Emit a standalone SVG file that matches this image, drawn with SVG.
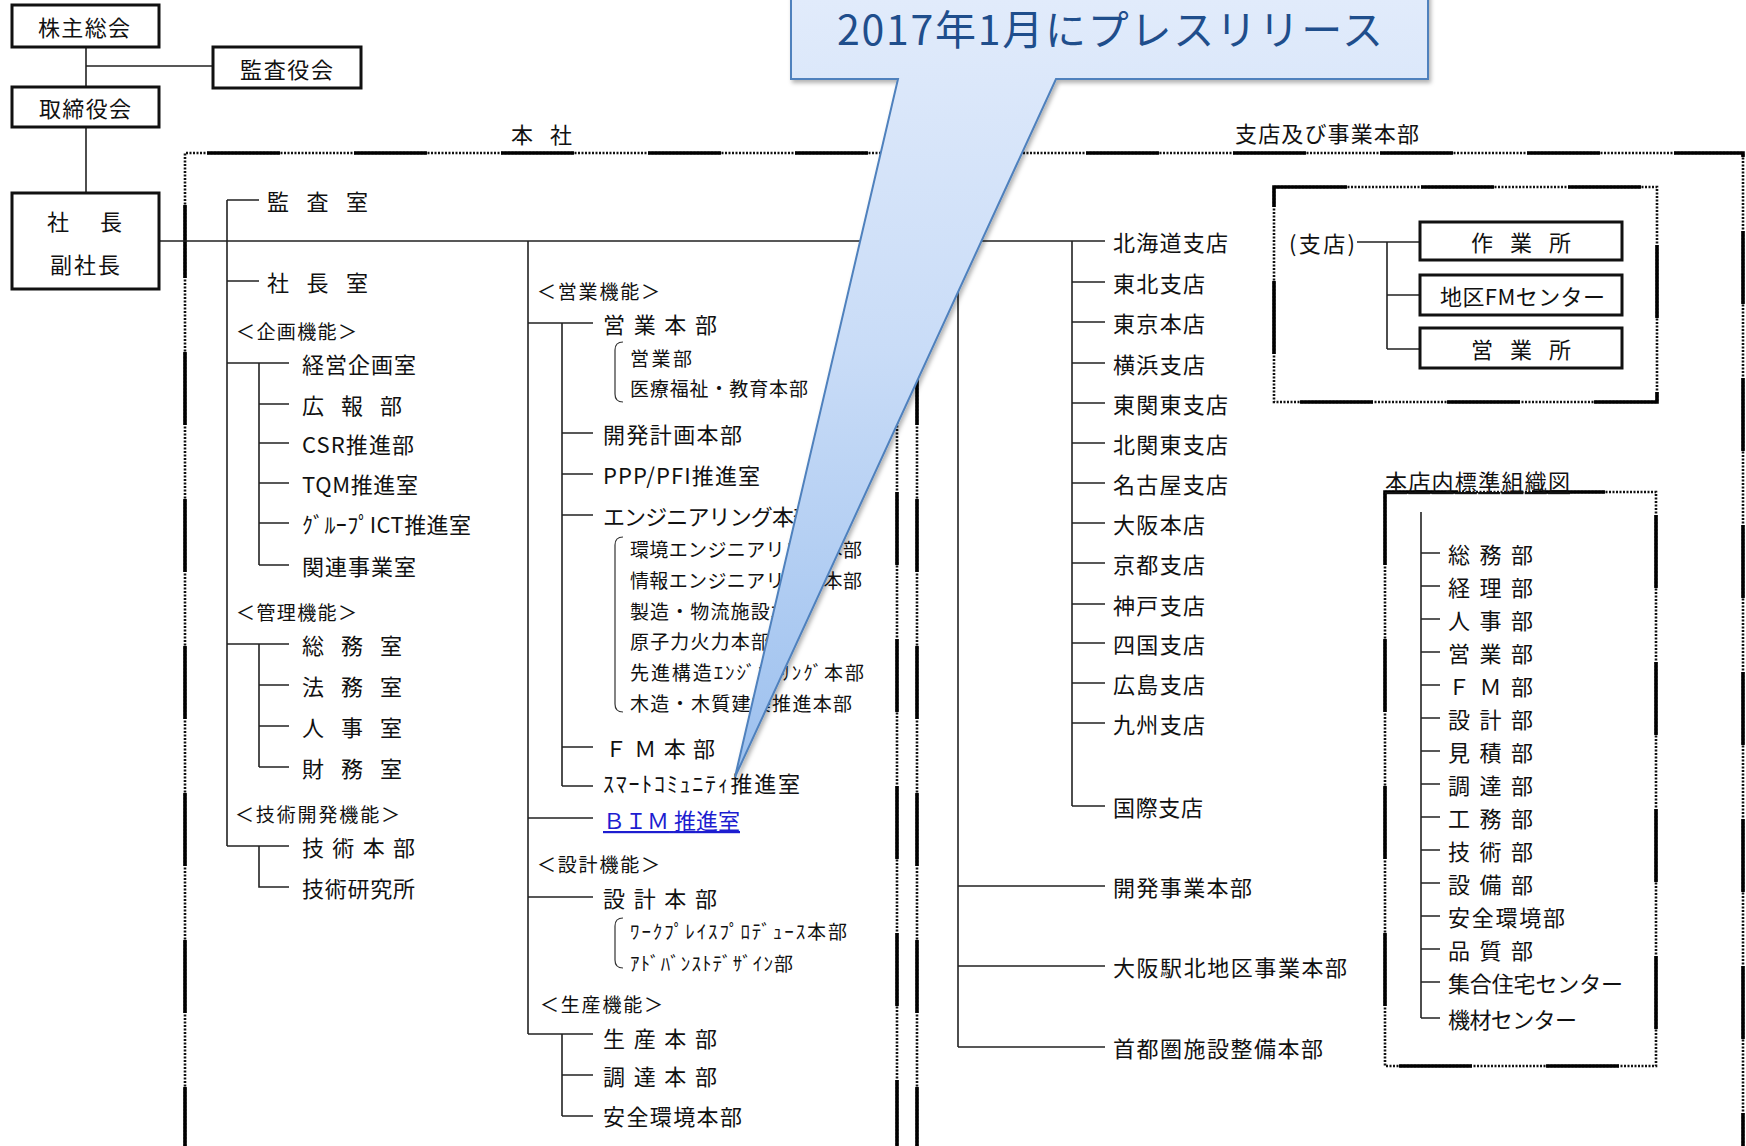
<svg xmlns="http://www.w3.org/2000/svg" width="1746" height="1146" viewBox="0 0 1746 1146">
<defs>
<style>
.t{font-family:"Noto Sans CJK JP","Noto Sans",sans-serif;font-size:22px;fill:#111;dominant-baseline:central}
.s{font-size:19px}
.h{font-size:19px}
.c{stroke:#222;stroke-width:1.6;fill:none}
.bx{fill:#fff;stroke:#111;stroke-width:3}
.dot{fill:none;stroke:#111;stroke-width:2.6;stroke-dasharray:2 1.5}
.sol{fill:none;stroke:#000;stroke-width:3.6;stroke-dasharray:73 74}
.br{fill:none;stroke:#333;stroke-width:1.2}
.ct{font-family:"Noto Sans CJK JP","Noto Sans",sans-serif;font-size:41px;fill:#1f4e8c}
</style>
<linearGradient id="cg" gradientUnits="userSpaceOnUse" x1="0" y1="0" x2="0" y2="777">
<stop offset="0" stop-color="#e1ebfb"/>
<stop offset="0.45" stop-color="#c9dcf7"/>
<stop offset="1" stop-color="#9cc0ee"/>
</linearGradient>
<filter id="sh" x="-10%" y="-10%" width="130%" height="130%">
<feDropShadow dx="2" dy="3" stdDeviation="2" flood-color="#000" flood-opacity="0.3"/>
</filter>
</defs>
<rect x="0" y="0" width="1746" height="1146" fill="#fff"/>

<!-- section frames -->
<g id="frame-honsha">
<path class="dot" d="M185,1160 V153 H897 V1160"/>
<path class="sol" d="M185,1160 V153 H897 V1160"/>
<text class="t" x="511" y="133" textLength="61">本 社</text>
</g>
<g id="frame-shiten">
<path class="dot" d="M917,1160 V153 H1743 V1160"/>
<path class="sol" d="M917,1160 V153 H1743 V1160"/>
<text class="t" x="1235" y="132" textLength="184">支店及び事業本部</text>
</g>
<g id="frame-shiten-inner">
<path class="dot" d="M1274,187 H1657 V402 H1274 Z"/>
<path class="sol" d="M1274,187 H1657 V402 H1274 Z"/>
</g>
<g id="frame-honten">
<path class="dot" d="M1385,492 H1656 V1066 H1385 Z"/>
<path class="sol" d="M1385,492 H1656 V1066 H1385 Z"/>
<text class="t" x="1385" y="480" textLength="185" text-decoration="underline">本店内標準組織図</text>
</g>

<!-- connectors -->
<g id="connectors">
<path class="c" d="M86,47 V87 M86,66 H213 M86,127 V193 M159,241 H1105"/>
<path class="c" d="M227,200 V846 M227,200 H259 M227,281 H259 M227,363 H289 M259,363 V565 M259,404 H289 M259,443 H289 M259,483 H289 M259,523 H289 M259,565 H289"/>
<path class="c" d="M227,644 H289 M259,644 V767 M259,685 H289 M259,726 H289 M259,767 H289 M227,846 H289 M259,846 V887 H289"/>
<path class="c" d="M528,241 V1034 M528,323 H593 M562,323 V786 M562,433 H593 M562,474 H593 M562,515 H593 M562,747 H593 M562,786 H593 M528,818 H593 M528,897 H593 M528,1034 H593 M562,1034 V1116 M562,1075 H593 M562,1116 H593"/>
<path class="br" d="M623,342 Q615,342 615,350 V394 Q615,402 623,402 M623,537 Q615,537 615,545 V704 Q615,712 623,712 M623,918 Q615,918 615,926 V960 Q615,968 623,968"/>
<path class="c" d="M1072,241 V806 M1072,282 H1105 M1072,322 H1105 M1072,363 H1105 M1072,403 H1105 M1072,443 H1105 M1072,483 H1105 M1072,523 H1105 M1072,563 H1105 M1072,604 H1105 M1072,643 H1105 M1072,683 H1105 M1072,723 H1105 M1072,806 H1105"/>
<path class="c" d="M958,241 V1047 M958,886 H1105 M958,966 H1105 M958,1047 H1105"/>
<path class="c" d="M1357,242 H1420 M1387,242 V349 M1387,295 H1420 M1387,349 H1420"/>
<path class="c" d="M1421,512 V1018 M1421,553 H1440 M1421,586 H1440 M1421,619 H1440 M1421,652 H1440 M1421,685 H1440 M1421,718 H1440 M1421,751 H1440 M1421,784 H1440 M1421,817 H1440 M1421,850 H1440 M1421,883 H1440 M1421,916 H1440 M1421,949 H1440 M1421,982 H1440 M1421,1018 H1440"/>
</g>

<!-- top nodes -->
<g id="n-kabunushi"><rect class="bx" x="12" y="5" width="147" height="42"/><text class="t" x="38" y="26" textLength="92">株主総会</text></g>
<g id="n-kansayakukai"><rect class="bx" x="213" y="47" width="148" height="41"/><text class="t" x="240" y="68" textLength="93">監査役会</text></g>
<g id="n-torishimariyaku"><rect class="bx" x="12" y="87" width="147" height="40"/><text class="t" x="39" y="107" textLength="92">取締役会</text></g>
<g id="n-shacho"><rect class="bx" x="12" y="193" width="147" height="96"/><text class="t" x="47" y="220" textLength="75">社　長</text><text class="t" x="50" y="263" textLength="70">副社長</text></g>

<!-- column 1 -->
<g id="n-kansashitsu"><text class="t" x="267" y="200" textLength="101">監 査 室</text></g>
<g id="n-shachoshitsu"><text class="t" x="267" y="281" textLength="101">社 長 室</text></g>
<g id="n-kikaku"><text class="t h" x="236" y="330" textLength="121">＜企画機能＞</text></g>
<g id="n-keiei"><text class="t" x="302" y="363" textLength="114">経営企画室</text></g>
<g id="n-koho"><text class="t" x="302" y="404" textLength="100">広 報 部</text></g>
<g id="n-csr"><text class="t" x="302" y="443" textLength="112">CSR推進部</text></g>
<g id="n-tqm"><text class="t" x="302" y="483" textLength="116">TQM推進室</text></g>
<g id="n-ict"><text class="t" x="302" y="523" textLength="169">ｸﾞﾙｰﾌﾟICT推進室</text></g>
<g id="n-kanren"><text class="t" x="302" y="565" textLength="114">関連事業室</text></g>
<g id="n-kanri"><text class="t h" x="236" y="611" textLength="121">＜管理機能＞</text></g>
<g id="n-somu"><text class="t" x="302" y="644" textLength="100">総 務 室</text></g>
<g id="n-homu"><text class="t" x="302" y="685" textLength="100">法 務 室</text></g>
<g id="n-jinji"><text class="t" x="302" y="726" textLength="100">人 事 室</text></g>
<g id="n-zaimu"><text class="t" x="302" y="767" textLength="100">財 務 室</text></g>
<g id="n-gijutsukaihatsu"><text class="t h" x="235" y="813" textLength="165">＜技術開発機能＞</text></g>
<g id="n-gijutsuhonbu"><text class="t" x="302" y="846" textLength="113">技 術 本 部</text></g>
<g id="n-gijutsuken"><text class="t" x="302" y="887" textLength="113">技術研究所</text></g>

<!-- column 2 -->
<g id="n-eigyokino"><text class="t h" x="537" y="290" textLength="123">＜営業機能＞</text></g>
<g id="n-eigyohonbu"><text class="t" x="603" y="323" textLength="114">営 業 本 部</text>
<text class="t s" x="630" y="357" textLength="62">営業部</text>
<text class="t s" x="630" y="387" textLength="178">医療福祉・教育本部</text></g>
<g id="n-kaihatsukeikaku"><text class="t" x="603" y="433" textLength="139">開発計画本部</text></g>
<g id="n-ppp"><text class="t" x="603" y="474" textLength="157">PPP/PFI推進室</text></g>
<g id="n-eng"><text class="t" x="603" y="515" textLength="212">エンジニアリング本部</text>
<text class="t s" x="630" y="548" textLength="232">環境エンジニアリング本部</text>
<text class="t s" x="630" y="579" textLength="232">情報エンジニアリング本部</text>
<text class="t s" x="630" y="610" textLength="180">製造・物流施設本部</text>
<text class="t s" x="630" y="640" textLength="140">原子力火力本部</text>
<text class="t s" x="630" y="671" textLength="234">先進構造ｴﾝｼﾞﾆｱﾘﾝｸﾞ本部</text>
<text class="t s" x="630" y="702" textLength="222">木造・木質建築推進本部</text></g>
<g id="n-fm"><text class="t" x="605" y="747" textLength="110">Ｆ Ｍ 本 部</text></g>
<g id="n-smart"><text class="t" x="603" y="782" textLength="197">ｽﾏｰﾄｺﾐｭﾆﾃｨ推進室</text></g>
<g id="n-bim"><text class="t" x="603" y="819" textLength="137" style="fill:#1d1dd0" text-decoration="underline">ＢＩＭ 推進室</text></g>
<g id="n-sekkeikino"><text class="t h" x="537" y="863" textLength="123">＜設計機能＞</text></g>
<g id="n-sekkeihonbu"><text class="t" x="603" y="897" textLength="114">設 計 本 部</text>
<text class="t s" x="630" y="930" textLength="217">ﾜｰｸﾌﾟﾚｲｽﾌﾟﾛﾃﾞｭｰｽ本部</text>
<text class="t s" x="630" y="962" textLength="163">ｱﾄﾞﾊﾞﾝｽﾄﾃﾞｻﾞｲﾝ部</text></g>
<g id="n-seisankino"><text class="t h" x="540" y="1003" textLength="123">＜生産機能＞</text></g>
<g id="n-seisanhonbu"><text class="t" x="603" y="1037" textLength="114">生 産 本 部</text></g>
<g id="n-chotatsu"><text class="t" x="603" y="1075" textLength="114">調 達 本 部</text></g>
<g id="n-anzen"><text class="t" x="603" y="1115" textLength="139">安全環境本部</text></g>

<!-- branches -->
<g id="n-hokkaido"><text class="t" x="1113" y="241" textLength="115">北海道支店</text></g>
<g id="n-tohoku"><text class="t" x="1113" y="282" textLength="92">東北支店</text></g>
<g id="n-tokyo"><text class="t" x="1113" y="322" textLength="92">東京本店</text></g>
<g id="n-yokohama"><text class="t" x="1113" y="363" textLength="92">横浜支店</text></g>
<g id="n-higashikanto"><text class="t" x="1113" y="403" textLength="115">東関東支店</text></g>
<g id="n-kitakanto"><text class="t" x="1113" y="443" textLength="115">北関東支店</text></g>
<g id="n-nagoya"><text class="t" x="1113" y="483" textLength="115">名古屋支店</text></g>
<g id="n-osaka"><text class="t" x="1113" y="523" textLength="92">大阪本店</text></g>
<g id="n-kyoto"><text class="t" x="1113" y="563" textLength="92">京都支店</text></g>
<g id="n-kobe"><text class="t" x="1113" y="604" textLength="92">神戸支店</text></g>
<g id="n-shikoku"><text class="t" x="1113" y="643" textLength="92">四国支店</text></g>
<g id="n-hiroshima"><text class="t" x="1113" y="683" textLength="92">広島支店</text></g>
<g id="n-kyushu"><text class="t" x="1113" y="723" textLength="92">九州支店</text></g>
<g id="n-kokusai"><text class="t" x="1113" y="806" textLength="90">国際支店</text></g>
<g id="n-kaihatsujigyo"><text class="t" x="1113" y="886" textLength="139">開発事業本部</text></g>
<g id="n-osakaeki"><text class="t" x="1113" y="966" textLength="234">大阪駅北地区事業本部</text></g>
<g id="n-shutoken"><text class="t" x="1113" y="1047" textLength="210">首都圏施設整備本部</text></g>

<!-- shiten inner -->
<g id="n-shiten"><text class="t" x="1289" y="242" textLength="66">(支店)</text></g>
<g id="n-sagyosho"><rect class="bx" x="1420" y="222" width="202" height="38"/><text class="t" x="1471" y="241" textLength="100">作 業 所</text></g>
<g id="n-chikufm"><rect class="bx" x="1420" y="275" width="202" height="40"/><text class="t" x="1440" y="295" textLength="165">地区FMセンター</text></g>
<g id="n-eigyosho"><rect class="bx" x="1420" y="328" width="202" height="40"/><text class="t" x="1471" y="348" textLength="100">営 業 所</text></g>

<!-- honten standard -->
<g id="n-h-somu"><text class="t" x="1448" y="553" textLength="85">総 務 部</text></g>
<g id="n-h-keiri"><text class="t" x="1448" y="586" textLength="85">経 理 部</text></g>
<g id="n-h-jinji"><text class="t" x="1448" y="619" textLength="85">人 事 部</text></g>
<g id="n-h-eigyo"><text class="t" x="1448" y="652" textLength="85">営 業 部</text></g>
<g id="n-h-fm"><text class="t" x="1448" y="685" textLength="85">Ｆ Ｍ 部</text></g>
<g id="n-h-sekkei"><text class="t" x="1448" y="718" textLength="85">設 計 部</text></g>
<g id="n-h-mitsumori"><text class="t" x="1448" y="751" textLength="85">見 積 部</text></g>
<g id="n-h-chotatsu"><text class="t" x="1448" y="784" textLength="85">調 達 部</text></g>
<g id="n-h-komu"><text class="t" x="1448" y="817" textLength="85">工 務 部</text></g>
<g id="n-h-gijutsu"><text class="t" x="1448" y="850" textLength="85">技 術 部</text></g>
<g id="n-h-setsubi"><text class="t" x="1448" y="883" textLength="85">設 備 部</text></g>
<g id="n-h-anzen"><text class="t" x="1448" y="916" textLength="117">安全環境部</text></g>
<g id="n-h-hinshitsu"><text class="t" x="1448" y="949" textLength="85">品 質 部</text></g>
<g id="n-h-shugo"><text class="t" x="1448" y="982" textLength="175">集合住宅センター</text></g>
<g id="n-h-kizai"><text class="t" x="1448" y="1018" textLength="129">機材センター</text></g>

<!-- callout -->
<g id="callout">
<path d="M791,-20 H1428 V79 H1056 L735,777 L898,79 H791 Z" fill="url(#cg)" stroke="#4f81bd" stroke-width="2" stroke-linejoin="miter" filter="url(#sh)"/>
<text class="ct" x="837" y="45" textLength="546">2017年1月にプレスリリース</text>
</g>
</svg>
